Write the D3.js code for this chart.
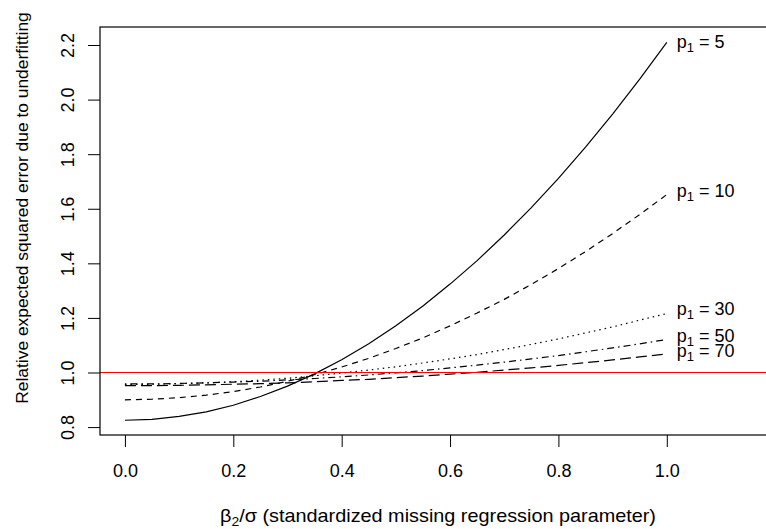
<!DOCTYPE html>
<html>
<head>
<meta charset="utf-8">
<script src="https://cdn.jsdelivr.net/npm/d3@7"></script>
<style>
  html, body { margin: 0; padding: 0; background: #fff; }
  svg { display: block; }
  text { font-family: "Liberation Sans", Arial, Helvetica, sans-serif; fill: #000; }
</style>
</head>
<body>
<svg id="chart" width="766" height="529"></svg>
<script>
// Standardized missing parameter beta2/sigma
const betaRatio = [0, 0.05, 0.1, 0.15, 0.2, 0.25, 0.3, 0.35, 0.4, 0.45, 0.5,
                   0.55, 0.6, 0.65, 0.7, 0.75, 0.8, 0.85, 0.9, 0.95, 1.0];

// Relative expected squared error for each number of retained predictors p1
const errP5  = [0.825, 0.828, 0.839, 0.856, 0.880, 0.912, 0.950, 0.995, 1.047, 1.105, 1.171,
                1.244, 1.324, 1.410, 1.504, 1.604, 1.711, 1.826, 1.947, 2.075, 2.210];
const errP10 = [0.900, 0.902, 0.908, 0.917, 0.930, 0.947, 0.968, 0.992, 1.020, 1.052, 1.088,
                1.127, 1.171, 1.218, 1.268, 1.323, 1.381, 1.443, 1.509, 1.579, 1.652];
const errP30 = [0.956, 0.957, 0.959, 0.962, 0.966, 0.972, 0.979, 0.988, 0.998, 1.009, 1.021,
                1.035, 1.050, 1.066, 1.084, 1.103, 1.123, 1.145, 1.167, 1.192, 1.216];
const errP50 = [0.958, 0.958, 0.960, 0.962, 0.965, 0.968, 0.973, 0.978, 0.984, 0.991, 0.999,
                1.007, 1.017, 1.027, 1.038, 1.050, 1.062, 1.076, 1.090, 1.105, 1.121];
const errP70 = [0.952, 0.952, 0.953, 0.955, 0.957, 0.959, 0.962, 0.966, 0.971, 0.975, 0.981,
                0.987, 0.994, 1.001, 1.009, 1.017, 1.026, 1.036, 1.046, 1.057, 1.068];

const seriesNames = ["5", "10", "30", "50", "70"];
const seriesValues = [errP5, errP10, errP30, errP50, errP70];
const seriesDash = [null, "6,5", "1.5,4", "1.5,4,7,4", "11,5"];
// Vertical level at which each curve label sits, beside the curve end
const labelLevels = [2.21, 1.665, 1.232, 1.133, 1.078];

const xTicks = [0, 0.2, 0.4, 0.6, 0.8, 1.0];
const yTicks = [0.8, 1.0, 1.2, 1.4, 1.6, 1.8, 2.0, 2.2];
const referenceLevel = 1.0;

const svg = d3.select("#chart");
const plot = { left: 100, right: 773, top: 27, bottom: 435 };

const x = d3.scaleLinear().domain([-0.046, 1.196]).range([plot.left, plot.right]);
const y = d3.scaleLinear().domain([0.771, 2.266]).range([plot.bottom, plot.top]);

// Curves
const line = d3.line().x((d, i) => x(betaRatio[i])).y(d => y(d));
seriesValues.forEach((vals, k) => {
  svg.append("path")
    .datum(vals)
    .attr("d", line)
    .attr("fill", "none")
    .attr("stroke", "#000")
    .attr("stroke-width", 1.2)
    .attr("stroke-dasharray", seriesDash[k]);
});

// Horizontal reference at relative error 1
svg.append("line")
  .attr("x1", plot.left).attr("x2", plot.right)
  .attr("y1", y(referenceLevel)).attr("y2", y(referenceLevel))
  .attr("stroke", "#ff0000").attr("stroke-width", 1.2);

// Curve labels to the right of each curve end
seriesNames.forEach((name, k) => {
  const t = svg.append("text")
    .attr("x", x(1.0) + 10)
    .attr("y", y(labelLevels[k]) + 6)
    .attr("font-size", 18);
  t.append("tspan").text("p");
  t.append("tspan").attr("font-size", 13).attr("dy", 4).text("1");
  t.append("tspan").attr("dy", -4).text(" = " + name);
});

// Axes
const xAxis = svg.append("g")
  .attr("transform", `translate(0,${plot.bottom})`)
  .call(d3.axisBottom(x).tickValues(xTicks).tickSize(12).tickPadding(17).tickFormat(d3.format(".1f")));
xAxis.select(".domain").remove();
xAxis.selectAll("text").attr("font-size", 18).attr("font-family", null);

const yAxis = svg.append("g")
  .attr("transform", `translate(${plot.left},0)`)
  .call(d3.axisLeft(y).tickValues(yTicks).tickSize(12).tickFormat(d3.format(".1f")));
yAxis.select(".domain").remove();
yAxis.selectAll("text")
  .attr("font-size", 18).attr("font-family", null)
  .attr("x", null).attr("dy", null)
  .attr("text-anchor", "middle")
  .attr("transform", "translate(-26,0) rotate(-90)");

// Plot frame
svg.append("rect")
  .attr("x", plot.left).attr("y", plot.top)
  .attr("width", plot.right - plot.left).attr("height", plot.bottom - plot.top)
  .attr("fill", "none").attr("stroke", "#000").attr("stroke-width", 1.2);

// Axis titles
const xt = svg.append("text")
  .attr("x", 438).attr("y", 522)
  .attr("text-anchor", "middle").attr("font-size", 18.5)
  .attr("textLength", 436).attr("lengthAdjust", "spacingAndGlyphs");
xt.append("tspan").text("β");
xt.append("tspan").attr("font-size", 13).attr("dy", 4).text("2");
xt.append("tspan").attr("dy", -4).text("/σ (standardized missing regression parameter)");

svg.append("text")
  .attr("transform", "translate(28,208) rotate(-90)")
  .attr("text-anchor", "middle").attr("font-size", 17.4)
  .text("Relative expected squared error due to underfitting");
</script>
</body>
</html>
